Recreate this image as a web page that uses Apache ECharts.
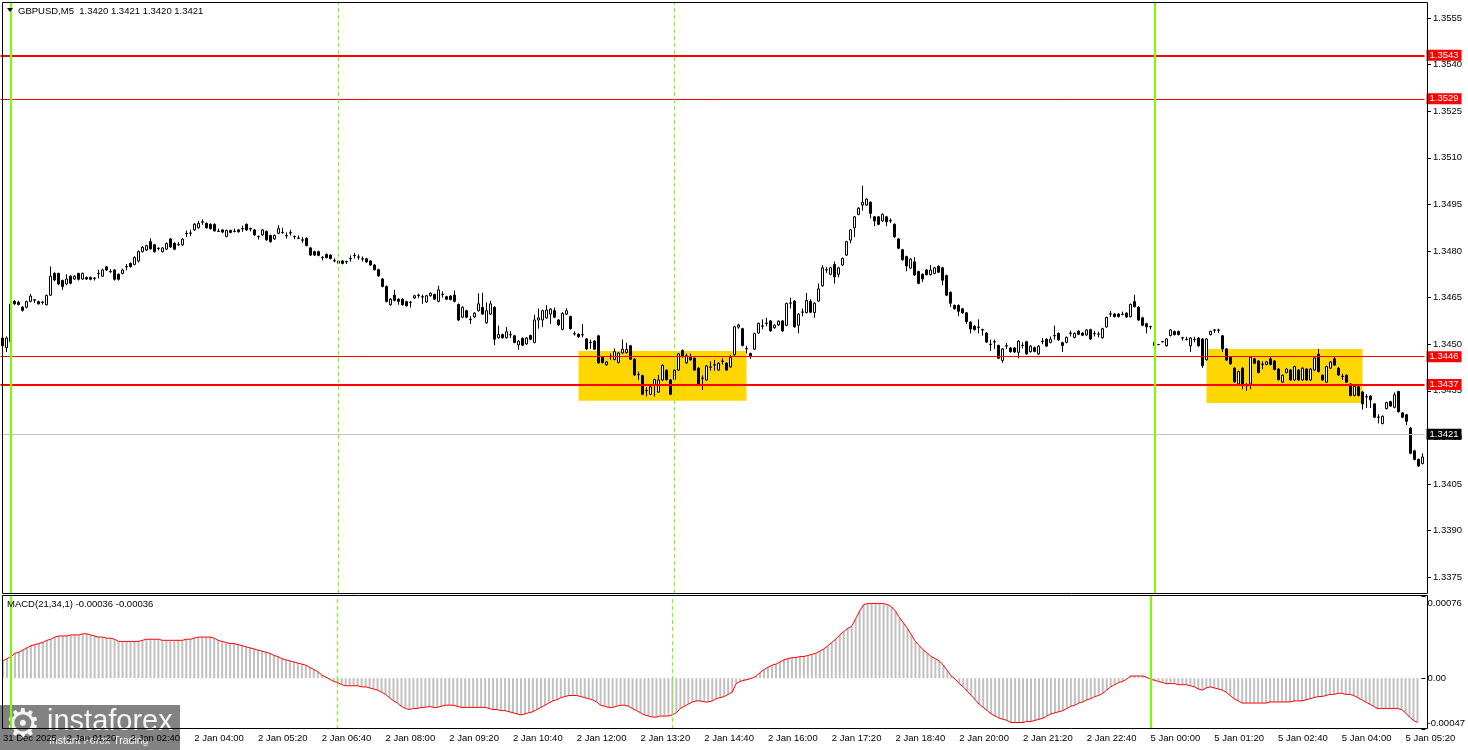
<!DOCTYPE html>
<html><head><meta charset="utf-8">
<script src="https://cdn.jsdelivr.net/npm/echarts@6/dist/echarts.min.js"></script>
<style>html,body{margin:0;padding:0;background:#fff}#c{width:1468px;height:750px}</style>
</head><body><div id="c"></div>
<script>
const timeLabels = ['31 Dec 2025','2 Jan 01:20','2 Jan 02:40','2 Jan 04:00','2 Jan 05:20','2 Jan 06:40','2 Jan 08:00','2 Jan 09:20','2 Jan 10:40','2 Jan 12:00','2 Jan 13:20','2 Jan 14:40','2 Jan 16:00','2 Jan 17:20','2 Jan 18:40','2 Jan 20:00','2 Jan 21:20','2 Jan 22:40','5 Jan 00:00','5 Jan 01:20','5 Jan 02:40','5 Jan 04:00','5 Jan 05:20'];

const openP = [
1.34520,1.34489,1.34508,1.34638,1.34635,1.34619,1.34619,1.34638,1.34643,1.34637,
1.34636,1.34627,1.34658,1.34728,1.34728,1.34705,1.34694,1.34719,1.34710,1.34728,
1.34710,1.34715,1.34715,1.34713,1.34728,1.34719,1.34749,1.34734,1.34739,1.34725,
1.34728,1.34750,1.34760,1.34757,1.34768,1.34798,1.34803,1.34830,1.34820,1.34809,
1.34798,1.34806,1.34839,1.34825,1.34820,1.34820,1.34857,1.34857,1.34868,1.34875,
1.34894,1.34889,1.34886,1.34886,1.34863,1.34868,1.34847,1.34866,1.34863,1.34868,
1.34872,1.34886,1.34872,1.34868,1.34847,1.34852,1.34863,1.34850,1.34839,1.34857,
1.34859,1.34849,1.34859,1.34846,1.34841,1.34836,1.34841,1.34810,1.34798,1.34798,
1.34779,1.34789,1.34787,1.34768,1.34768,1.34768,1.34766,1.34776,1.34786,1.34780,
1.34775,1.34775,1.34768,1.34755,1.34740,1.34710,1.34686,1.34627,1.34658,1.34645,
1.34645,1.34637,1.34635,1.34649,1.34658,1.34653,1.34636,1.34656,1.34660,1.34638,
1.34660,1.34653,1.34655,1.34658,1.34628,1.34587,1.34608,1.34579,1.34588,1.34608,
1.34619,1.34569,1.34597,1.34619,1.34521,1.34531,1.34521,1.34530,1.34527,1.34498,
1.34519,1.34501,1.34528,1.34506,1.34578,1.34578,1.34585,1.34597,1.34608,1.34578,
1.34548,1.34597,1.34589,1.34533,1.34532,1.34530,1.34517,1.34506,1.34510,1.34527,
1.34458,1.34434,1.34460,1.34451,1.34441,1.34472,1.34473,1.34495,1.34452,1.34402,
1.34399,1.34350,1.34339,1.34369,1.34346,1.34385,1.34416,1.34385,1.34387,1.34417,
1.34480,1.34440,1.34460,1.34455,1.34423,1.34390,1.34385,1.34426,1.34433,1.34417,
1.34446,1.34439,1.34427,1.34466,1.34555,1.34550,1.34485,1.34470,1.34484,1.34536,
1.34558,1.34568,1.34575,1.34553,1.34562,1.34575,1.34561,1.34632,1.34639,1.34561,
1.34603,1.34602,1.34638,1.34602,1.34639,1.34688,1.34739,1.34725,1.34757,1.34725,
1.34755,1.34787,1.34835,1.34875,1.34918,1.34948,1.34948,1.34957,1.34910,1.34910,
1.34897,1.34910,1.34897,1.34886,1.34839,1.34804,1.34782,1.34745,1.34765,1.34734,
1.34725,1.34739,1.34724,1.34728,1.34751,1.34746,1.34721,1.34667,1.34625,1.34625,
1.34614,1.34601,1.34571,1.34558,1.34554,1.34547,1.34536,1.34499,1.34508,1.34496,
1.34448,1.34494,1.34488,1.34488,1.34474,1.34496,1.34508,1.34476,1.34489,1.34469,
1.34509,1.34516,1.34506,1.34528,1.34535,1.34505,1.34506,1.34535,1.34522,1.34542,
1.34536,1.34530,1.34547,1.34534,1.34532,1.34521,1.34556,1.34597,1.34597,1.34597,
1.34596,1.34600,1.34589,1.34637,1.34619,1.34585,1.34566,1.34556,1.34496,1.34499,
1.34508,1.34495,1.34528,1.34541,1.34541,1.34520,1.34515,1.34495,1.34515,1.34520,
1.34517,1.34450,1.34531,1.34546,1.34546,1.34527,1.34485,1.34458,1.34423,1.34372,
1.34423,1.34366,1.34372,1.34453,1.34446,1.34435,1.34435,1.34453,1.34446,1.34420,
1.34378,1.34409,1.34417,1.34385,1.34417,1.34385,1.34420,1.34385,1.34417,1.34468,
1.34400,1.34378,1.34423,1.34453,1.34423,1.34396,1.34400,1.34372,1.34335,1.34363,
1.34346,1.34330,1.34333,1.34308,1.34265,1.34245,1.34293,1.34315,1.34297,1.34348,
1.34279,1.34273,1.34230,1.34157,1.34129,1.34116];

const closeP = [
1.34495,1.34520,1.34629,1.34630,1.34628,1.34609,1.34637,1.34655,1.34642,1.34630,
1.34635,1.34657,1.34719,1.34707,1.34694,1.34686,1.34710,1.34696,1.34719,1.34709,
1.34728,1.34710,1.34709,1.34712,1.34727,1.34739,1.34739,1.34733,1.34709,1.34709,
1.34739,1.34749,1.34750,1.34779,1.34798,1.34812,1.34817,1.34807,1.34798,1.34808,
1.34810,1.34824,1.34813,1.34806,1.34821,1.34838,1.34856,1.34858,1.34886,1.34889,
1.34893,1.34875,1.34872,1.34865,1.34864,1.34861,1.34866,1.34860,1.34864,1.34862,
1.34871,1.34868,1.34871,1.34852,1.34846,1.34868,1.34836,1.34830,1.34850,1.34872,
1.34860,1.34850,1.34858,1.34847,1.34842,1.34835,1.34818,1.34787,1.34787,1.34786,
1.34780,1.34779,1.34776,1.34769,1.34761,1.34760,1.34765,1.34775,1.34785,1.34781,
1.34774,1.34765,1.34755,1.34740,1.34720,1.34686,1.34638,1.34645,1.34641,1.34638,
1.34627,1.34624,1.34634,1.34656,1.34657,1.34652,1.34656,1.34664,1.34645,1.34675,
1.34661,1.34645,1.34644,1.34638,1.34578,1.34619,1.34587,1.34580,1.34600,1.34630,
1.34597,1.34608,1.34630,1.34516,1.34531,1.34521,1.34540,1.34531,1.34506,1.34510,
1.34497,1.34520,1.34516,1.34578,1.34585,1.34608,1.34610,1.34613,1.34587,1.34562,
1.34599,1.34608,1.34550,1.34534,1.34525,1.34531,1.34485,1.34505,1.34484,1.34440,
1.34441,1.34443,1.34461,1.34476,1.34472,1.34484,1.34483,1.34452,1.34401,1.34403,
1.34339,1.34351,1.34363,1.34386,1.34385,1.34432,1.34386,1.34339,1.34416,1.34469,
1.34460,1.34463,1.34450,1.34417,1.34372,1.34391,1.34430,1.34427,1.34434,1.34439,
1.34445,1.34417,1.34458,1.34556,1.34562,1.34496,1.34486,1.34460,1.34534,1.34567,
1.34559,1.34567,1.34543,1.34561,1.34574,1.34543,1.34631,1.34633,1.34556,1.34597,
1.34604,1.34641,1.34603,1.34632,1.34678,1.34746,1.34740,1.34746,1.34717,1.34746,
1.34776,1.34830,1.34868,1.34910,1.34938,1.34957,1.34967,1.34921,1.34897,1.34886,
1.34918,1.34894,1.34898,1.34846,1.34809,1.34772,1.34752,1.34774,1.34723,1.34696,
1.34710,1.34724,1.34739,1.34746,1.34732,1.34706,1.34658,1.34632,1.34614,1.34606,
1.34601,1.34573,1.34549,1.34547,1.34555,1.34546,1.34507,1.34500,1.34507,1.34455,
1.34485,1.34495,1.34476,1.34475,1.34510,1.34497,1.34469,1.34494,1.34477,1.34494,
1.34510,1.34494,1.34516,1.34527,1.34514,1.34496,1.34522,1.34536,1.34535,1.34532,
1.34529,1.34546,1.34517,1.34535,1.34533,1.34550,1.34586,1.34598,1.34589,1.34589,
1.34597,1.34588,1.34628,1.34621,1.34578,1.34561,1.34556,1.34557,1.34506,1.34499,
1.34508,1.34517,1.34546,1.34531,1.34531,1.34521,1.34516,1.34520,1.34516,1.34495,
1.34431,1.34517,1.34541,1.34545,1.34545,1.34485,1.34449,1.34437,1.34379,1.34412,
1.34372,1.34367,1.34458,1.34439,1.34409,1.34436,1.34443,1.34435,1.34419,1.34386,
1.34400,1.34420,1.34385,1.34428,1.34385,1.34423,1.34385,1.34420,1.34456,1.34412,
1.34385,1.34428,1.34443,1.34433,1.34401,1.34397,1.34378,1.34335,1.34365,1.34335,
1.34308,1.34331,1.34321,1.34265,1.34266,1.34268,1.34312,1.34301,1.34337,1.34283,
1.34265,1.34252,1.34149,1.34129,1.34108,1.34137];

const lowP = [
1.34485,1.34475,1.34503,1.34627,1.34625,1.34605,1.34615,1.34635,1.34633,1.34628,
1.34628,1.34625,1.34655,1.34703,1.34690,1.34675,1.34690,1.34693,1.34707,1.34705,
1.34707,1.34707,1.34706,1.34705,1.34712,1.34716,1.34736,1.34730,1.34705,1.34705,
1.34725,1.34738,1.34746,1.34754,1.34763,1.34795,1.34800,1.34804,1.34795,1.34802,
1.34795,1.34803,1.34810,1.34803,1.34817,1.34817,1.34845,1.34848,1.34865,1.34872,
1.34884,1.34872,1.34869,1.34862,1.34861,1.34858,1.34844,1.34857,1.34860,1.34859,
1.34862,1.34865,1.34863,1.34849,1.34837,1.34849,1.34833,1.34827,1.34836,1.34854,
1.34856,1.34840,1.34850,1.34838,1.34838,1.34827,1.34815,1.34784,1.34784,1.34783,
1.34770,1.34776,1.34773,1.34764,1.34758,1.34757,1.34758,1.34766,1.34776,1.34772,
1.34766,1.34762,1.34752,1.34737,1.34717,1.34683,1.34635,1.34624,1.34638,1.34627,
1.34624,1.34621,1.34618,1.34646,1.34648,1.34630,1.34633,1.34653,1.34642,1.34635,
1.34650,1.34642,1.34641,1.34635,1.34575,1.34584,1.34584,1.34565,1.34585,1.34605,
1.34594,1.34566,1.34594,1.34497,1.34518,1.34518,1.34518,1.34520,1.34503,1.34482,
1.34494,1.34498,1.34513,1.34503,1.34550,1.34555,1.34582,1.34565,1.34584,1.34559,
1.34545,1.34594,1.34547,1.34528,1.34520,1.34522,1.34482,1.34485,1.34481,1.34437,
1.34438,1.34431,1.34450,1.34448,1.34438,1.34469,1.34470,1.34449,1.34398,1.34385,
1.34336,1.34332,1.34336,1.34332,1.34343,1.34382,1.34383,1.34336,1.34384,1.34414,
1.34457,1.34437,1.34447,1.34414,1.34369,1.34353,1.34382,1.34415,1.34415,1.34414,
1.34435,1.34414,1.34424,1.34463,1.34550,1.34493,1.34470,1.34453,1.34481,1.34533,
1.34548,1.34558,1.34540,1.34550,1.34559,1.34540,1.34558,1.34615,1.34553,1.34535,
1.34590,1.34599,1.34600,1.34585,1.34636,1.34685,1.34730,1.34722,1.34695,1.34715,
1.34752,1.34784,1.34825,1.34845,1.34915,1.34930,1.34945,1.34905,1.34880,1.34883,
1.34894,1.34880,1.34890,1.34843,1.34806,1.34769,1.34735,1.34742,1.34720,1.34693,
1.34700,1.34721,1.34721,1.34725,1.34729,1.34690,1.34655,1.34620,1.34611,1.34590,
1.34598,1.34565,1.34535,1.34544,1.34535,1.34528,1.34504,1.34478,1.34485,1.34452,
1.34440,1.34485,1.34473,1.34472,1.34455,1.34486,1.34466,1.34473,1.34474,1.34466,
1.34500,1.34491,1.34503,1.34515,1.34511,1.34475,1.34503,1.34525,1.34519,1.34529,
1.34526,1.34527,1.34514,1.34525,1.34522,1.34518,1.34553,1.34588,1.34586,1.34586,
1.34593,1.34585,1.34586,1.34618,1.34575,1.34558,1.34535,1.34548,1.34493,1.34497,
1.34506,1.34492,1.34525,1.34528,1.34528,1.34512,1.34512,1.34475,1.34506,1.34492,
1.34424,1.34447,1.34528,1.34536,1.34536,1.34475,1.34446,1.34434,1.34376,1.34369,
1.34355,1.34350,1.34355,1.34436,1.34406,1.34420,1.34432,1.34432,1.34416,1.34383,
1.34375,1.34406,1.34382,1.34382,1.34382,1.34382,1.34382,1.34382,1.34414,1.34409,
1.34382,1.34375,1.34420,1.34430,1.34398,1.34385,1.34375,1.34332,1.34332,1.34332,
1.34290,1.34295,1.34295,1.34262,1.34245,1.34242,1.34290,1.34298,1.34294,1.34280,
1.34262,1.34240,1.34146,1.34126,1.34105,1.34113];

const highP = [
1.34530,1.34525,1.34635,1.34642,1.34640,1.34623,1.34640,1.34662,1.34645,1.34640,
1.34638,1.34660,1.34750,1.34732,1.34730,1.34708,1.34725,1.34722,1.34722,1.34730,
1.34731,1.34718,1.34718,1.34716,1.34740,1.34743,1.34752,1.34742,1.34742,1.34728,
1.34743,1.34758,1.34763,1.34783,1.34802,1.34816,1.34820,1.34841,1.34823,1.34812,
1.34813,1.34828,1.34842,1.34828,1.34829,1.34842,1.34866,1.34868,1.34890,1.34897,
1.34902,1.34892,1.34889,1.34889,1.34872,1.34871,1.34869,1.34869,1.34872,1.34871,
1.34882,1.34889,1.34875,1.34871,1.34850,1.34871,1.34866,1.34853,1.34853,1.34883,
1.34875,1.34860,1.34868,1.34850,1.34850,1.34845,1.34844,1.34813,1.34801,1.34801,
1.34783,1.34792,1.34790,1.34776,1.34771,1.34771,1.34769,1.34786,1.34794,1.34789,
1.34783,1.34778,1.34771,1.34758,1.34743,1.34713,1.34689,1.34648,1.34675,1.34648,
1.34648,1.34640,1.34639,1.34659,1.34663,1.34660,1.34659,1.34667,1.34663,1.34688,
1.34670,1.34656,1.34658,1.34673,1.34631,1.34622,1.34611,1.34590,1.34603,1.34664,
1.34666,1.34635,1.34640,1.34622,1.34560,1.34534,1.34555,1.34542,1.34530,1.34513,
1.34522,1.34523,1.34531,1.34595,1.34615,1.34611,1.34625,1.34616,1.34618,1.34581,
1.34604,1.34616,1.34592,1.34542,1.34535,1.34565,1.34520,1.34515,1.34513,1.34530,
1.34461,1.34446,1.34470,1.34486,1.34475,1.34515,1.34505,1.34498,1.34455,1.34412,
1.34402,1.34362,1.34366,1.34389,1.34401,1.34435,1.34419,1.34388,1.34419,1.34472,
1.34483,1.34470,1.34470,1.34458,1.34426,1.34400,1.34433,1.34445,1.34450,1.34442,
1.34455,1.34442,1.34465,1.34559,1.34566,1.34553,1.34495,1.34473,1.34537,1.34570,
1.34580,1.34585,1.34578,1.34564,1.34577,1.34578,1.34634,1.34650,1.34642,1.34600,
1.34615,1.34665,1.34645,1.34635,1.34695,1.34755,1.34749,1.34749,1.34766,1.34749,
1.34779,1.34833,1.34871,1.34913,1.34941,1.35010,1.34970,1.34960,1.34913,1.34913,
1.34921,1.34913,1.34905,1.34889,1.34842,1.34807,1.34785,1.34777,1.34780,1.34737,
1.34728,1.34742,1.34755,1.34749,1.34754,1.34749,1.34724,1.34670,1.34628,1.34628,
1.34617,1.34604,1.34574,1.34561,1.34580,1.34550,1.34539,1.34515,1.34515,1.34499,
1.34488,1.34504,1.34491,1.34491,1.34513,1.34506,1.34511,1.34497,1.34492,1.34497,
1.34520,1.34519,1.34525,1.34560,1.34538,1.34508,1.34525,1.34544,1.34538,1.34545,
1.34539,1.34549,1.34550,1.34543,1.34540,1.34553,1.34589,1.34607,1.34600,1.34600,
1.34605,1.34603,1.34631,1.34659,1.34622,1.34588,1.34569,1.34560,1.34509,1.34501,
1.34510,1.34520,1.34549,1.34544,1.34544,1.34524,1.34524,1.34523,1.34524,1.34523,
1.34520,1.34520,1.34544,1.34549,1.34550,1.34530,1.34488,1.34461,1.34426,1.34415,
1.34426,1.34375,1.34461,1.34456,1.34449,1.34445,1.34446,1.34460,1.34449,1.34423,
1.34403,1.34423,1.34420,1.34431,1.34420,1.34426,1.34423,1.34423,1.34459,1.34485,
1.34403,1.34431,1.34446,1.34460,1.34426,1.34405,1.34403,1.34375,1.34368,1.34366,
1.34349,1.34340,1.34336,1.34311,1.34275,1.34271,1.34315,1.34318,1.34345,1.34350,
1.34282,1.34276,1.34233,1.34160,1.34132,1.34149];

const macdValues = [
0.00016,0.00018,0.00020,0.00023,0.00024,0.00026,0.00028,0.00030,0.00031,0.00032,
0.00033,0.00035,0.00036,0.00038,0.00039,0.00039,0.00039,0.00040,0.00040,0.00040,
0.00041,0.00041,0.00040,0.00039,0.00038,0.00038,0.00037,0.00037,0.00036,0.00034,
0.00034,0.00034,0.00034,0.00034,0.00034,0.00035,0.00036,0.00036,0.00036,0.00036,
0.00035,0.00035,0.00035,0.00035,0.00035,0.00035,0.00036,0.00036,0.00037,0.00038,
0.00038,0.00038,0.00038,0.00037,0.00035,0.00034,0.00033,0.00032,0.00032,0.00031,
0.00030,0.00029,0.00028,0.00027,0.00026,0.00025,0.00024,0.00023,0.00021,0.00020,
0.00018,0.00017,0.00016,0.00015,0.00014,0.00013,0.00012,0.00010,0.00008,0.00006,
0.00003,0.00001,-0.00001,-0.00003,-0.00004,-0.00006,-0.00007,-0.00007,-0.00007,-0.00007,
-0.00008,-0.00008,-0.00009,-0.00010,-0.00011,-0.00013,-0.00015,-0.00018,-0.00021,-0.00023,
-0.00026,-0.00028,-0.00029,-0.00028,-0.00028,-0.00027,-0.00027,-0.00026,-0.00027,-0.00027,
-0.00026,-0.00025,-0.00025,-0.00025,-0.00026,-0.00027,-0.00027,-0.00027,-0.00027,-0.00027,
-0.00027,-0.00027,-0.00028,-0.00029,-0.00029,-0.00030,-0.00030,-0.00031,-0.00032,-0.00033,
-0.00034,-0.00033,-0.00032,-0.00031,-0.00029,-0.00027,-0.00025,-0.00023,-0.00021,-0.00020,
-0.00018,-0.00017,-0.00016,-0.00016,-0.00016,-0.00017,-0.00018,-0.00019,-0.00020,-0.00022,
-0.00025,-0.00026,-0.00027,-0.00027,-0.00026,-0.00025,-0.00025,-0.00026,-0.00028,-0.00030,
-0.00032,-0.00034,-0.00035,-0.00036,-0.00036,-0.00035,-0.00035,-0.00035,-0.00034,-0.00032,
-0.00028,-0.00026,-0.00024,-0.00022,-0.00021,-0.00021,-0.00022,-0.00022,-0.00021,-0.00019,
-0.00018,-0.00017,-0.00015,-0.00013,-0.00005,-0.00003,-0.00002,-0.00001,0,0.00002,
0.00005,0.00008,0.00010,0.00012,0.00013,0.00015,0.00017,0.00018,0.00019,0.00019,
0.00020,0.00020,0.00021,0.00022,0.00023,0.00025,0.00027,0.00030,0.00033,0.00036,
0.00040,0.00043,0.00046,0.00048,0.00055,0.00062,0.00068,0.00069,0.00069,0.00069,
0.00069,0.00069,0.00068,0.00066,0.00062,0.00056,0.00051,0.00046,0.00040,0.00034,
0.00030,0.00026,0.00023,0.00020,0.00018,0.00016,0.00012,0.00007,0.00002,-0.00001,
-0.00005,-0.00008,-0.00012,-0.00016,-0.00020,-0.00024,-0.00027,-0.00030,-0.00033,-0.00035,
-0.00037,-0.00038,-0.00039,-0.00041,-0.00041,-0.00041,-0.00041,-0.00040,-0.00040,-0.00039,
-0.00038,-0.00037,-0.00035,-0.00033,-0.00032,-0.00031,-0.00030,-0.00028,-0.00026,-0.00025,
-0.00023,-0.00022,-0.00020,-0.00019,-0.00017,-0.00016,-0.00014,-0.00011,-0.00008,-0.00006,
-0.00004,-0.00003,-0.00001,0.00002,0.00002,0.00002,0.00002,0.00001,-0.00001,-0.00002,
-0.00003,-0.00004,-0.00005,-0.00005,-0.00005,-0.00006,-0.00006,-0.00006,-0.00007,-0.00008,
-0.00010,-0.00011,-0.00009,-0.00008,-0.00009,-0.00010,-0.00011,-0.00013,-0.00016,-0.00019,
-0.00021,-0.00023,-0.00023,-0.00023,-0.00023,-0.00023,-0.00023,-0.00023,-0.00022,-0.00022,
-0.00022,-0.00022,-0.00022,-0.00022,-0.00021,-0.00021,-0.00021,-0.00020,-0.00019,-0.00018,
-0.00017,-0.00017,-0.00016,-0.00015,-0.00015,-0.00014,-0.00014,-0.00015,-0.00015,-0.00016,
-0.00018,-0.00020,-0.00022,-0.00024,-0.00026,-0.00028,-0.00028,-0.00028,-0.00028,-0.00028,
-0.00028,-0.00029,-0.00032,-0.00036,-0.00039,-0.00041];

const priceTicks = [1.3375,1.3390,1.3405,1.3420,1.3435,1.3450,1.3465,1.3480,1.3495,1.3510,1.3525,1.3540,1.3555];
const macdTicks = [0.00076, 0, -0.00047];
const levels = [1.3543, 1.3529, 1.3446, 1.3437];
const bidLevel = 1.3421;
const greenBars = [2, 288];
const dashBars = [84, 168];
const zoneStart = [144, 301];
const zoneEnd = [186, 340];
const zoneTop = [1.34478, 1.34485];
const zoneBottom = [1.34318, 1.34311];
const headerText = 'GBPUSD,M5  1.3420 1.3421 1.3420 1.3421';
const macdText = 'MACD(21,34,1) -0.00036 -0.00036';

const FONT = "'Liberation Sans', Arial, sans-serif";
const cats = openP.map((_, i) => String(i));
const candleData = openP.map((o, i) => [o, closeP[i], lowP[i], highP[i]]);

const vLines = greenBars.map(k => ({xAxis: cats[k], lineStyle: {color: '#7cfc00', width: 2, type: 'solid'}}))
  .concat(dashBars.map(k => ({xAxis: cats[k], lineStyle: {color: '#7cfc00', width: 1, type: [4, 3]}})));

const tagLabel = (bg) => ({show: true, position: 'end', distance: 2, backgroundColor: bg, color: '#fff',
  padding: [1, 3, 0, 3], fontSize: 9.5, fontFamily: FONT});
const hLines = levels.map((v, i) => ({yAxis: v,
  lineStyle: {color: '#ff0000', width: (i === 0 || i === 3) ? 2 : 1, type: 'solid'},
  label: Object.assign(tagLabel('#ff0000'), {formatter: v.toFixed(4)})}));
hLines.push({yAxis: bidLevel, lineStyle: {color: '#c0c0c0', width: 1, type: 'solid'},
  label: Object.assign(tagLabel('#000000'), {formatter: bidLevel.toFixed(4)})});

const zones = zoneStart.map((s, i) => [{xAxis: cats[s], yAxis: zoneTop[i]}, {xAxis: cats[zoneEnd[i]], yAxis: zoneBottom[i]}]);

const chart = echarts.init(document.getElementById('c'), null, {renderer: 'canvas'});
chart.setOption({
  animation: false,
  backgroundColor: '#ffffff',
  grid: [
    {left: 0.5, width: 1424, top: 3, height: 590},
    {left: 1, width: 1424, top: 596, height: 133}
  ],
  xAxis: [
    {gridIndex: 0, type: 'category', data: cats, boundaryGap: true, show: false},
    {gridIndex: 1, type: 'category', data: cats, boundaryGap: true,
      axisLine: {show: false}, axisTick: {show: false}, splitLine: {show: false},
      axisLabel: {interval: 15, align: 'left', margin: 4, fontSize: 9.5, color: '#000', fontFamily: FONT,
        formatter: (v, i) => (i % 16 === 0 ? (timeLabels[i / 16] || '') : '')}}
  ],
  yAxis: [
    {gridIndex: 0, type: 'value', position: 'right', offset: 2.5, min: 1.336993, max: 1.355983,
      splitLine: {show: false}, axisLine: {show: false},
      axisTick: {show: true, length: 4, customValues: priceTicks, lineStyle: {color: '#000'}},
      axisLabel: {customValues: priceTicks, formatter: v => v.toFixed(4), margin: 6, fontSize: 9.5, color: '#000', fontFamily: FONT}},
    {gridIndex: 1, type: 'value', position: 'right', offset: 2, min: -0.00047, max: 0.00076,
      splitLine: {show: false}, axisLine: {show: false},
      axisTick: {show: true, length: 4, customValues: macdTicks, lineStyle: {color: '#000'}},
      axisLabel: {customValues: macdTicks, margin: 6, fontSize: 9.5, color: '#000', fontFamily: FONT,
        formatter: v => v > 0 ? '{t|' + v.toFixed(5) + '}' : (v < 0 ? '{b|' + v.toFixed(5) + '}' : '0.00'),
        rich: {t: {padding: [14, 0, 0, 0], fontSize: 9.5, fontFamily: FONT}, b: {padding: [0, 0, 12, 0], fontSize: 9.5, fontFamily: FONT}}}}
  ],
  series: [
    {name: 'zones', type: 'line', xAxisIndex: 0, yAxisIndex: 0, data: closeP, z: 1, silent: true,
      showSymbol: false, symbol: 'none', lineStyle: {opacity: 0, width: 0},
      markArea: {silent: true, itemStyle: {color: '#ffd700', opacity: 1}, data: zones}},
    {name: 'GBPUSD', type: 'candlestick', xAxisIndex: 0, yAxisIndex: 0, data: candleData, z: 3,
      barWidth: 2, silent: true,
      itemStyle: {color: '#ffffff', color0: '#000000', borderColor: '#000000', borderColor0: '#000000',
        borderColorDoji: '#000000', borderWidth: 1}},
    {name: 'lines', type: 'line', xAxisIndex: 0, yAxisIndex: 0, data: closeP, z: 5, silent: true,
      showSymbol: false, symbol: 'none', lineStyle: {opacity: 0, width: 0},
      markLine: {silent: true, symbol: ['none', 'none'], precision: 6, animation: false,
        label: {show: false}, data: hLines.concat(vLines.map(d => Object.assign({label: {show: false}}, d)))}},
    {name: 'MACD', type: 'bar', xAxisIndex: 1, yAxisIndex: 1, data: macdValues, barWidth: 2, silent: true,
      itemStyle: {color: '#c0c0c0'}, z: 2,
      markLine: {silent: true, symbol: ['none', 'none'], label: {show: false},
        data: vLines.map(d => Object.assign({label: {show: false}}, d))}},
    {name: 'Signal', type: 'line', xAxisIndex: 1, yAxisIndex: 1, data: macdValues, showSymbol: false, symbol: 'none',
      silent: true, z: 4, lineStyle: {color: '#ff0000', width: 1}}
  ],
  graphic: [
    {type: 'rect', shape: {x: 2.5, y: 2.5, width: 1425, height: 591}, style: {fill: 'none', stroke: '#000', lineWidth: 1}, z: 10, silent: true},
    {type: 'rect', shape: {x: 2.5, y: 595.5, width: 1425, height: 133}, style: {fill: 'none', stroke: '#000', lineWidth: 1}, z: 10, silent: true},
    {type: 'polygon', shape: {points: [[7, 8], [13, 8], [10, 12]]}, style: {fill: '#000'}, z: 10, silent: true},
    {type: 'text', x: 18, y: 11, style: {text: headerText, fill: '#000', font: '9.5px ' + FONT, verticalAlign: 'middle'}, z: 10, silent: true},
    {type: 'text', x: 7, y: 604.5, style: {text: macdText, fill: '#000', font: '9.5px ' + FONT, verticalAlign: 'middle'}, z: 10, silent: true},
    {type: 'group', z: 20, silent: true, children: [
      {type: 'rect', shape: {x: 0, y: 705, width: 180, height: 45}, style: {fill: 'rgba(95,95,95,0.78)'}},
      {type: 'text', x: 5, y: 727, style: {text: '\u2699', fill: 'rgba(255,255,255,0.9)', font: '40px "DejaVu Sans"', verticalAlign: 'middle'}},
      {type: 'text', x: 47, y: 722, style: {text: 'instaforex', fill: 'rgba(255,255,255,0.92)', font: '29px ' + FONT, verticalAlign: 'middle'}},
      {type: 'text', x: 49, y: 741, style: {text: 'Instant Forex Trading', fill: 'rgba(255,255,255,0.9)', font: '10.5px ' + FONT, verticalAlign: 'middle'}}
    ]}
  ]
});
</script></body></html>
